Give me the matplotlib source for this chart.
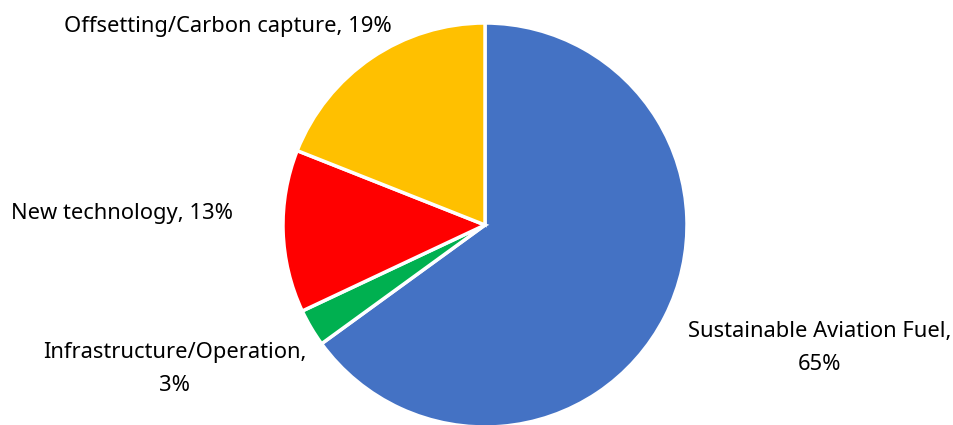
import matplotlib.pyplot as plt

# 数据
labels = ['Sustainable Aviation Fuel,\n65%', 'Infrastructure/Operation,\n3%',
          'New technology, 13%', 'Offsetting/Carbon capture, 19%']
values = [65, 3, 13, 19]
colors = ['#4472C4', '#00B050', '#FF0000', '#FFC000']

# label positions (data units, pie radius = 1)
label_pos = [(1.658, -0.609), (-1.535, -0.713), (-1.797, 0.059), (-1.272, 0.985)]

fig = plt.figure(figsize=(9.54, 4.25), dpi=100)
ax = fig.add_axes([0, 0, 1, 1])

wedges, texts = ax.pie(values, labels=labels, colors=colors, startangle=90,
                       counterclock=False, radius=1,
                       wedgeprops=dict(edgecolor='white', linewidth=2.5))

for t, (x, y) in zip(texts, label_pos):
    t.set_position((x, y))
    t.set_ha('center')
    t.set_va('center')
    t.set_fontsize(15.8)
    t.set_family('Noto Sans')
    t.set_linespacing(1.8)
    t.set_multialignment('center')

ax.set_xlim(-485 / 202, (954 - 485) / 202)
ax.set_ylim(-(425 - 225) / 202, 225 / 202)
ax.set_aspect('equal')
ax.axis('off')

fig.savefig('out.png', dpi=100)
